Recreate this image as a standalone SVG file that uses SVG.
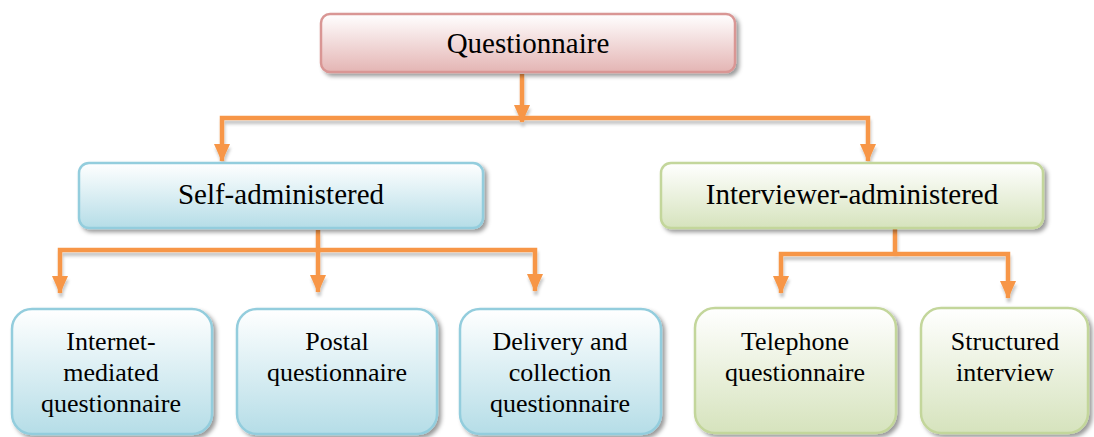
<svg xmlns="http://www.w3.org/2000/svg" width="1094" height="437" viewBox="0 0 1094 437">
  <defs>
    <linearGradient id="gRed" x1="0" y1="0" x2="0" y2="1">
      <stop offset="0" stop-color="#ffffff"/>
      <stop offset="1" stop-color="#e4b5b4"/>
    </linearGradient>
    <linearGradient id="gBlue" x1="0" y1="0" x2="0" y2="1">
      <stop offset="0" stop-color="#ffffff"/>
      <stop offset="1" stop-color="#b5dde7"/>
    </linearGradient>
    <linearGradient id="gGreen" x1="0" y1="0" x2="0" y2="1">
      <stop offset="0" stop-color="#ffffff"/>
      <stop offset="1" stop-color="#d6e3bd"/>
    </linearGradient>
    <filter id="boxShadow" x="-10%" y="-20%" width="120%" height="150%">
      <feGaussianBlur in="SourceAlpha" stdDeviation="2"/>
      <feOffset dx="3" dy="3" result="b"/>
      <feFlood flood-color="#000" flood-opacity="0.4"/>
      <feComposite in2="b" operator="in"/>
      <feMerge><feMergeNode/><feMergeNode in="SourceGraphic"/></feMerge>
    </filter>
    <filter id="lineShadow" x="-5%" y="-20%" width="110%" height="150%">
      <feGaussianBlur in="SourceAlpha" stdDeviation="1.5"/>
      <feOffset dx="1" dy="4" result="b"/>
      <feFlood flood-color="#000" flood-opacity="0.22"/>
      <feComposite in2="b" operator="in"/>
      <feMerge><feMergeNode/><feMergeNode in="SourceGraphic"/></feMerge>
    </filter>
    <!-- arrowhead drawn along +x so orient="auto" turns it along the line -->
    <marker id="arrow" markerUnits="userSpaceOnUse" markerWidth="20" markerHeight="16" viewBox="0 0 18 16" refX="17" refY="8" orient="auto-start-reverse">
      <polygon points="0,0 18,8 0,16" fill="#f79646"/>
    </marker>
  </defs>
  <style>
    .box { stroke-width: 2.5; filter: url(#boxShadow); }
    .red { fill: url(#gRed); stroke: #d99694; }
    .blue { fill: url(#gBlue); stroke: #93cddd; }
    .green { fill: url(#gGreen); stroke: #c3d69b; }
    text { font-family: 'Liberation Serif', Tinos, 'Times New Roman', 'Noto Serif', 'DejaVu Serif', serif; fill: #000; text-anchor: middle; }
    .title { font-size: 29px; }
    .label { font-size: 26px; }
    .conn { fill: none; stroke: #f79646; stroke-width: 4.5; }
    .arr { marker-end: url(#arrow); }
  </style>

  <!-- connectors -->
  <g id="connectors" filter="url(#lineShadow)">
    <!-- root to second level -->
    <path class="conn" d="M222,161 V118 H868 V161" marker-start="url(#arrow)" marker-end="url(#arrow)"/>
    <path class="conn arr" d="M522,74 V122"/>
    <!-- self-administered branch -->
    <path class="conn" d="M60,293 V250 H535 V291" marker-start="url(#arrow)" marker-end="url(#arrow)"/>
    <path class="conn arr" d="M318,230 V292"/>
    <!-- interviewer-administered branch -->
    <path class="conn" d="M781,293 V254 H1008 V298" marker-start="url(#arrow)" marker-end="url(#arrow)"/>
    <path class="conn" d="M895,229 V254"/>
  </g>

  <g id="questionnaire">
    <rect class="box red" x="321" y="14" width="414" height="58" rx="9"/>
    <text class="title" x="528" y="53" font-family="Liberation Serif, serif">Questionnaire</text>
  </g>

  <g id="self-administered">
    <rect class="box blue" x="79" y="163" width="404" height="65" rx="10"/>
    <text class="title" x="281" y="204">Self-administered</text>
  </g>

  <g id="interviewer-administered">
    <rect class="box green" x="661" y="163" width="382" height="65" rx="10"/>
    <text class="title" x="852" y="204">Interviewer-administered</text>
  </g>

  <g id="internet-mediated">
    <rect class="box blue" x="12" y="309" width="200" height="125" rx="20"/>
    <text class="label" x="111" y="350">Internet-</text>
    <text class="label" x="111" y="381">mediated</text>
    <text class="label" x="111" y="412">questionnaire</text>
  </g>

  <g id="postal">
    <rect class="box blue" x="237" y="309" width="200" height="125" rx="20"/>
    <text class="label" x="337" y="350">Postal</text>
    <text class="label" x="337" y="381">questionnaire</text>
  </g>

  <g id="delivery-collection">
    <rect class="box blue" x="460" y="309" width="201" height="125" rx="20"/>
    <text class="label" x="560" y="350">Delivery and</text>
    <text class="label" x="560" y="381">collection</text>
    <text class="label" x="560" y="412">questionnaire</text>
  </g>

  <g id="telephone">
    <rect class="box green" x="695" y="308" width="201" height="125" rx="20"/>
    <text class="label" x="795" y="350">Telephone</text>
    <text class="label" x="795" y="381">questionnaire</text>
  </g>

  <g id="structured-interview">
    <rect class="box green" x="921" y="308" width="167" height="125" rx="20"/>
    <text class="label" x="1005" y="350">Structured</text>
    <text class="label" x="1005" y="381">interview</text>
  </g>
</svg>
